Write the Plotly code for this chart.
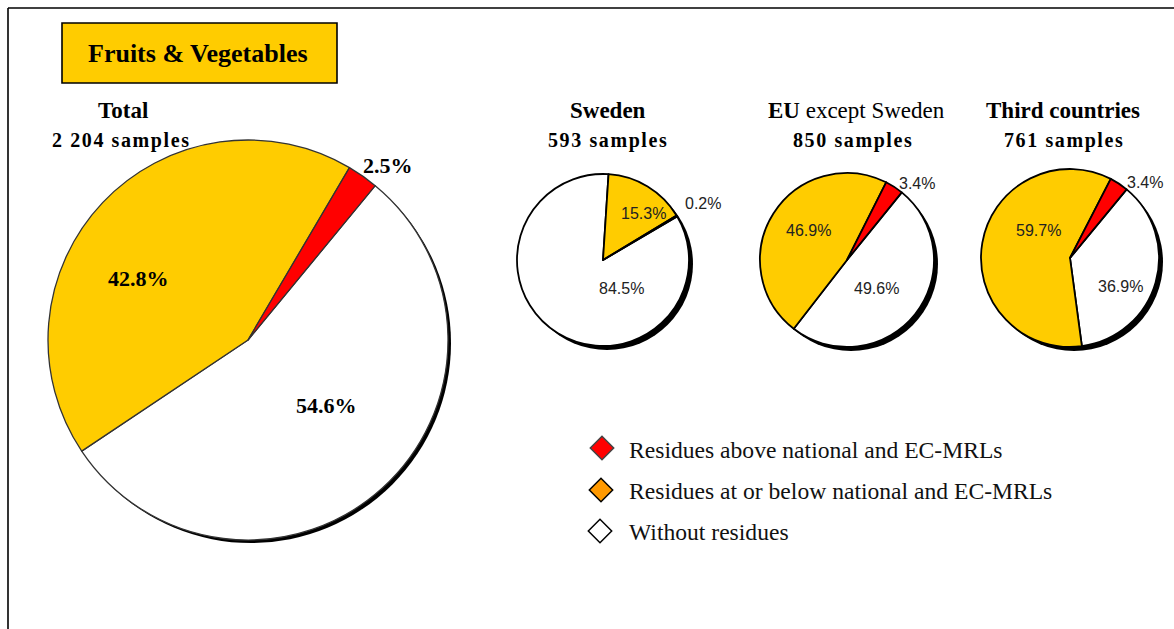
import plotly.graph_objects as go

# ---- data -------------------------------------------------------------
groups = ["Total", "Sweden", "EU", "Third countries"]
samples = [2204, 593, 850, 761]
above_mrl = [2.5, 0.2, 3.4, 3.4]
at_or_below_mrl = [42.8, 15.3, 46.9, 59.7]
without_residues = [54.6, 84.5, 49.6, 36.9]
categories = [
    "Residues above national and EC-MRLs",
    "Residues at or below national and EC-MRLs",
    "Without residues",
]

# ---- styling / layout -------------------------------------------------
W, H = 1174, 629
RED, YELLOW, WHITE, ORANGE = "#FF0000", "#FFCC00", "#FFFFFF", "#FF9900"
SERIF = "Liberation Serif"
SANS = "Liberation Sans"

# pie centre (px), radius (px), start angle, shadow offset, outline
pie_geom = [(248, 340, 200), (603, 260, 86), (847, 260, 87), (1070, 258, 89)]
rotations = [39.5, 59.5, 39.0, 39.5]
shadow_off = [(3, 3), (4, 4), (4, 4), (4, 4)]
outline = [("#333333", 1.3), ("#000000", 1.8), ("#000000", 1.8), ("#000000", 1.8)]

# label anchor points for [above, at/below, without] per pie
label_pos = [
    [(388, 165), (138, 278), (326, 405)],
    [(703, 203), (643, 213), (621, 288)],
    [(917, 183), (808, 230), (876, 288)],
    [(1145, 182), (1038, 230), (1120, 286)],
]
header_pos = [((123, 110), (121, 140)), ((608, 110), (608, 140)),
              ((856, 110), (853, 140)), ((1063, 110), (1064, 140))]


def domain_for(cx, cy, r):
    return dict(x=[(cx - r) / W, (cx + r) / W],
                y=[1 - (cy + r) / H, 1 - (cy - r) / H])


fig = go.Figure()

# drop shadows behind each pie
for (cx, cy, r), (dx, dy) in zip(pie_geom, shadow_off):
    fig.add_trace(go.Pie(
        values=[1], labels=["shadow"], sort=False,
        marker=dict(colors=["#000000"], line=dict(width=0)),
        domain=domain_for(cx + dx, cy + dy, r),
        textinfo="none", hoverinfo="skip", showlegend=False,
    ))

# the pies themselves (clockwise: without, at/below, above)
for i, (cx, cy, r) in enumerate(pie_geom):
    lc, lw = outline[i]
    fig.add_trace(go.Pie(
        values=[without_residues[i], at_or_below_mrl[i], above_mrl[i]],
        labels=[categories[2], categories[1], categories[0]],
        sort=False, direction="clockwise", rotation=rotations[i],
        marker=dict(colors=[WHITE, YELLOW, RED], line=dict(color=lc, width=lw)),
        domain=domain_for(cx, cy, r),
        textinfo="none", showlegend=False, name=groups[i],
    ))

# legend diamonds on a hidden pixel-space axis
fig.add_trace(go.Scatter(
    x=[602, 601, 600], y=[448, 490, 531], mode="markers",
    marker=dict(symbol="diamond", size=18,
                color=[RED, ORANGE, WHITE],
                line=dict(color=["#444444", "#000000", "#000000"], width=1.5)),
    hoverinfo="skip", showlegend=False,
))

annotations = []

# percentage labels
for i in range(4):
    vals = [above_mrl[i], at_or_below_mrl[i], without_residues[i]]
    for (x, y), v in zip(label_pos[i], vals):
        if i == 0:
            font = dict(family=SERIF, size=22, color="#000000")
            txt = f"<b>{v:.1f}%</b>"
        else:
            font = dict(family=SANS, size=16, color="#222222")
            txt = f"{v:.1f}%"
        annotations.append(dict(x=x, y=y, xref="x", yref="y", text=txt,
                                showarrow=False, font=font,
                                xanchor="center", yanchor="middle"))

# group headers
header_text = ["<b>Total</b>", "<b>Sweden</b>",
               "<b>EU</b> except Sweden", "<b>Third countries</b>"]
for i in range(4):
    (hx, hy), (sx, sy) = header_pos[i]
    annotations.append(dict(x=hx, y=hy, xref="x", yref="y", text=header_text[i],
                            showarrow=False,
                            font=dict(family=SERIF, size=23, color="#000000"),
                            xanchor="center", yanchor="middle"))
    n = f"{samples[i]:,}".replace(",", " ")
    annotations.append(dict(x=sx, y=sy, xref="x", yref="y",
                            text=f'<span style="letter-spacing:1.6px"><b>{n} samples</b></span>',
                            showarrow=False,
                            font=dict(family=SERIF, size=20, color="#000000"),
                            xanchor="center", yanchor="middle"))

# title inside the yellow box
annotations.append(dict(x=198, y=53, xref="x", yref="y",
                        text="<b>Fruits & Vegetables</b>", showarrow=False,
                        font=dict(family=SERIF, size=26, color="#000000"),
                        xanchor="center", yanchor="middle"))

# legend texts
for cat, y in zip(categories, [450, 491, 532]):
    annotations.append(dict(x=627, y=y, xref="x", yref="y", text=cat,
                            showarrow=False,
                            font=dict(family=SERIF, size=23.6, color="#111111"),
                            xanchor="left", yanchor="middle"))

shapes = [
    # chart frame (top and left edges)
    dict(type="line", xref="x", yref="y", x0=8, y0=8, x1=W, y1=8,
         line=dict(color="#000000", width=1.6)),
    dict(type="line", xref="x", yref="y", x0=8, y0=8, x1=8, y1=H,
         line=dict(color="#000000", width=1.6)),
    # title box
    dict(type="rect", xref="x", yref="y", x0=62, y0=23, x1=337, y1=83,
         fillcolor=YELLOW, line=dict(color="#000000", width=1.6), layer="below"),
]

fig.update_layout(
    width=W, height=H,
    margin=dict(l=0, r=0, t=0, b=0),
    paper_bgcolor="#FFFFFF", plot_bgcolor="rgba(0,0,0,0)",
    xaxis=dict(range=[0, W], visible=False, fixedrange=True, domain=[0, 1]),
    yaxis=dict(range=[H, 0], visible=False, fixedrange=True, domain=[0, 1]),
    annotations=annotations, shapes=shapes, showlegend=False,
)

fig.write_html("out.html")
